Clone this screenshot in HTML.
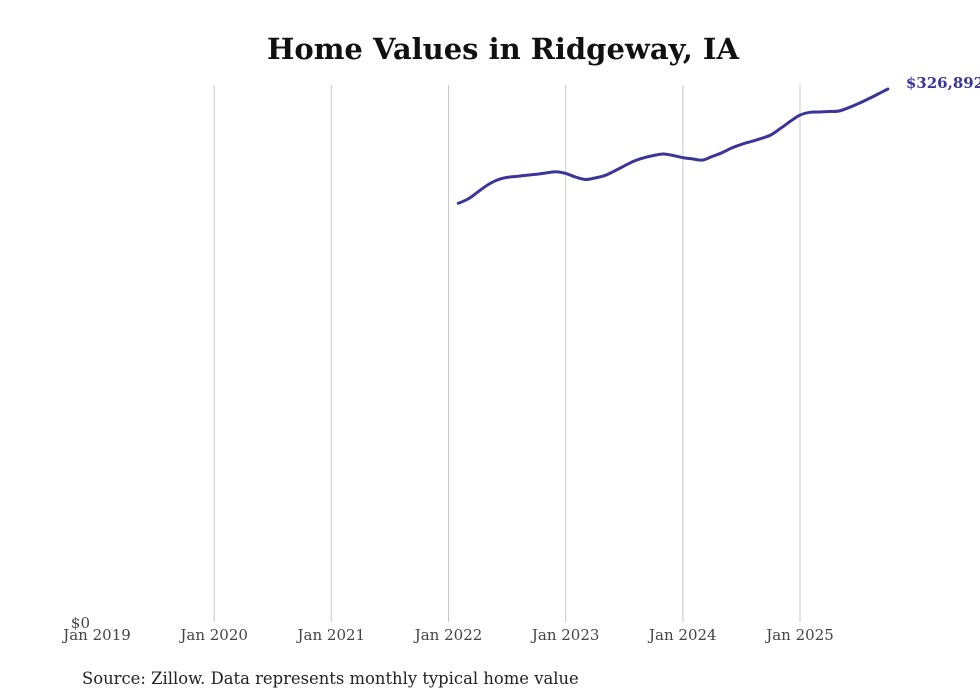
<!DOCTYPE html>
<html><head><meta charset="utf-8"><style>
html,body{margin:0;padding:0;background:#fff;width:980px;height:699px;overflow:hidden}
svg{display:block;font-family:"DejaVu Serif","Liberation Serif",serif}
</style></head><body>
<svg id="chart" width="980" height="699">
<text x="503" y="59" text-anchor="middle" font-size="29" font-weight="bold" fill="#111">Home Values in Ridgeway, IA</text>
<g id="grid"></g><g id="xlabels"></g>
<text x="90" y="628" text-anchor="end" font-size="15" fill="#444">$0</text>
<path id="line" fill="none" stroke="#3b3599" stroke-width="3" stroke-linejoin="round" stroke-linecap="round"/>
<text id="endlabel" font-size="15" font-weight="bold" fill="#3b3599"></text>
<text x="82" y="684" font-size="16.4" fill="#222">Source: Zillow. Data represents monthly typical home value</text>
</svg>
<script>
const tickLabels=["Jan 2019","Jan 2020","Jan 2021","Jan 2022","Jan 2023","Jan 2024","Jan 2025"];
const startMonth=37; // months since Jan 2019 (Feb 2022)
const values=[256800,259400,263700,268000,271100,272700,273300,274000,274600,275400,276200,275100,272900,271400,272300,273800,276600,279700,282700,284700,286100,287000,286100,284800,284000,283300,285500,287800,290700,292900,294700,296500,298700,302700,307000,310900,312600,312800,313100,313400,315500,318000,320800,323800,326892];
const yMax=326892;
const x=m=>97+m*(703/72);
const y=v=>622-v/yMax*533;
const ns="http://www.w3.org/2000/svg";
const g=document.getElementById('grid'),xl=document.getElementById('xlabels');
tickLabels.forEach((t,i)=>{
  const xx=x(i*12);
  if(i>0){const l=document.createElementNS(ns,'line');
  l.setAttribute('x1',xx);l.setAttribute('x2',xx);l.setAttribute('y1',85);l.setAttribute('y2',622);
  l.setAttribute('stroke','#c8c8c8');l.setAttribute('stroke-width','1');
  
  
  g.appendChild(l);}
  const tx=document.createElementNS(ns,'text');
  tx.setAttribute('x',xx);tx.setAttribute('y',640);tx.setAttribute('text-anchor','middle');
  tx.setAttribute('font-size','15');tx.setAttribute('fill','#444');tx.textContent=t;
  
  
  xl.appendChild(tx);
});
const pts=values.map((v,i)=>[x(startMonth+i),y(v)]);
let d='M'+pts[0][0].toFixed(1)+','+pts[0][1].toFixed(1);
for(let i=0;i<pts.length-1;i++){
  const p0=pts[Math.max(0,i-1)],p1=pts[i],p2=pts[i+1],p3=pts[Math.min(pts.length-1,i+2)];
  const c1=[p1[0]+(p2[0]-p0[0])/6,p1[1]+(p2[1]-p0[1])/6];
  const c2=[p2[0]-(p3[0]-p1[0])/6,p2[1]-(p3[1]-p1[1])/6];
  d+='C'+c1.map(n=>n.toFixed(1)).join(',')+' '+c2.map(n=>n.toFixed(1)).join(',')+' '+p2.map(n=>n.toFixed(1)).join(',');
}
document.getElementById('line').setAttribute('d',d);
const last=values[values.length-1];
const el=document.getElementById('endlabel');
el.setAttribute('x',x(startMonth+values.length-1)+18);
el.setAttribute('y',y(last)-1);
el.textContent='$'+last.toLocaleString('en-US');
</script>
</body></html>
